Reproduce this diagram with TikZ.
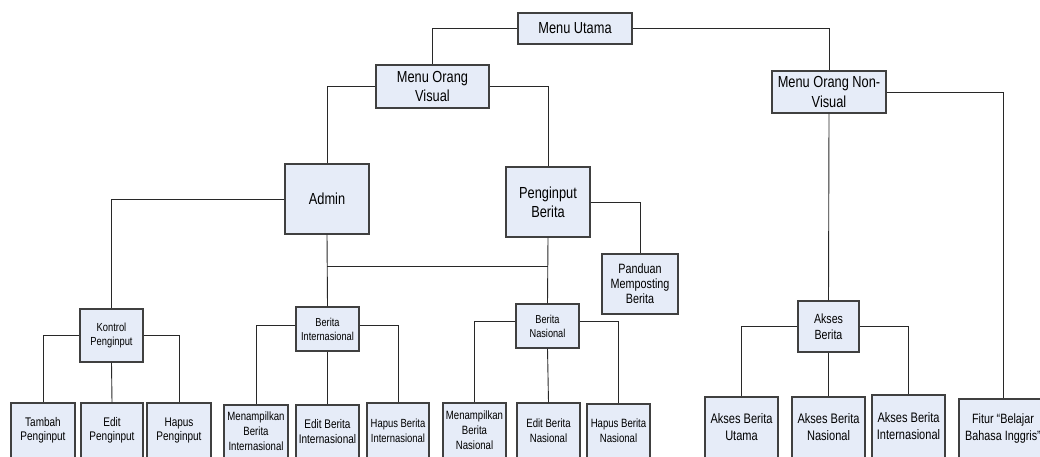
\documentclass[tikz,border=0pt]{standalone}
\usepackage{fontspec}
\setmainfont[FakeStretch=0.8]{Liberation Sans}
\definecolor{boxfill}{RGB}{230,236,248}
\definecolor{boxline}{RGB}{64,64,64}
\definecolor{conn}{RGB}{40,40,40}
\tikzset{
  box/.style={draw=boxline, fill=boxfill, line width=1.2pt, inner sep=0pt, align=center, text=black},
  link/.style={draw=conn, line width=0.9pt}
}
\newcommand\bx[8]{%
  \pgfmathsetmacro\bw{#4-#2}%
  \pgfmathsetmacro\bh{#5-#3}%
  \node[box, minimum width=\bw pt, minimum height=\bh pt, font=\fontsize{#6}{#7}\selectfont] (#1) at ({(#2+#4)/2},{(#3+#5)/2}) {#8};}
\begin{document}
\begin{tikzpicture}[x=1pt, y=-1pt]
\clip (0,0) rectangle (1040,456);
\fill[white] (0,0) rectangle (1040,456);
% boxes
\bx{mu}{518}{13}{632}{44}{16}{19}{Menu Utama}
\bx{mov}{376}{65}{489}{108}{16}{19}{Menu Orang\\Visual}
\bx{monv}{772}{71}{886}{113}{16}{19.5}{Menu Orang Non-\\Visual}
\bx{admin}{285}{164}{369}{234}{16}{19}{Admin}
\bx{pb}{506}{167}{590}{237}{16}{19}{Penginput\\Berita}
\bx{pmb}{602}{254}{678}{314}{13.5}{15}{Panduan\\Memposting\\Berita}
\bx{kp}{80}{309}{143}{362}{11.7}{14}{Kontrol\\Penginput}
\bx{bi}{296}{307}{359}{351}{11.5}{14}{Berita\\Internasional}
\bx{bn}{516}{304}{579}{348}{11.5}{14}{Berita\\Nasional}
\bx{ab}{798}{301}{859}{352}{13.3}{15.5}{Akses\\Berita}
% bottom row
\bx{tp}{11}{403}{75}{458}{12.5}{14}{Tambah\\Penginput}
\bx{ep}{81}{403}{143}{458}{12.5}{14}{Edit\\Penginput}
\bx{hp}{147}{403}{211}{458}{12.5}{14}{Hapus\\Penginput}
\bx{mbi}{224}{405}{288}{458}{12}{15}{Menampilkan\\Berita\\Internasional}
\bx{ebi}{296}{405}{359}{458}{12.5}{15}{Edit Berita\\Internasional}
\bx{hbi}{367}{403}{429}{458}{11.8}{15}{Hapus Berita\\Internasional}
\bx{mbn}{443}{403}{506}{458}{12}{15}{Menampilkan\\Berita\\Nasional}
\bx{ebn}{517}{403}{580}{458}{12}{15}{Edit Berita\\Nasional}
\bx{hbn}{587}{404}{650}{458}{12}{15}{Hapus Berita\\Nasional}
\bx{abu}{705}{397}{778}{458}{13.8}{17}{Akses Berita\\Utama}
\bx{abn}{792}{397}{865}{458}{13.8}{17}{Akses Berita\\Nasional}
\bx{abi}{872}{395}{945}{458}{13.8}{17}{Akses Berita\\Internasional}
\bx{fit}{959}{399}{1047}{458}{13.5}{17}{Fitur “Belajar\\Bahasa Inggris”}
% connectors
\coordinate (bar) at (0,266);
\draw[link] (mu.west) -| (mov.north);
\draw[link] (mu.east) -| (monv.north);
\draw[link] (mov.west) -| (admin.north);
\draw[link] (mov.east) -| (pb.north);
\draw[link] (monv.south) -- (ab.north);
\draw[link] (monv.east) -| (fit.north);
\draw[link] (admin.west) -| (kp.north);
\draw[link] (pb.east) -| (pmb.north);
\draw[link] (admin.south) -- (bi.north);
\draw[link] (pb.south) -- (bn.north);
\draw[link] (admin.south |- bar) -- (pb.south |- bar);
\draw[link] (kp.west) -| (tp.north);
\draw[link] (kp.south) -- (ep.north);
\draw[link] (kp.east) -| (hp.north);
\draw[link] ([yshift=4pt]bi.west) -| (mbi.north);
\draw[link] (bi.south) -- (ebi.north);
\draw[link] ([yshift=4pt]bi.east) -| (hbi.north);
\draw[link] ([yshift=5pt]bn.west) -| (mbn.north);
\draw[link] (bn.south) -- (ebn.north);
\draw[link] ([yshift=5pt]bn.east) -| (hbn.north);
\draw[link] (ab.west) -| (abu.north);
\draw[link] (ab.south) -- (abn.north);
\draw[link] (ab.east) -| (abi.north);
\end{tikzpicture}
\end{document}
